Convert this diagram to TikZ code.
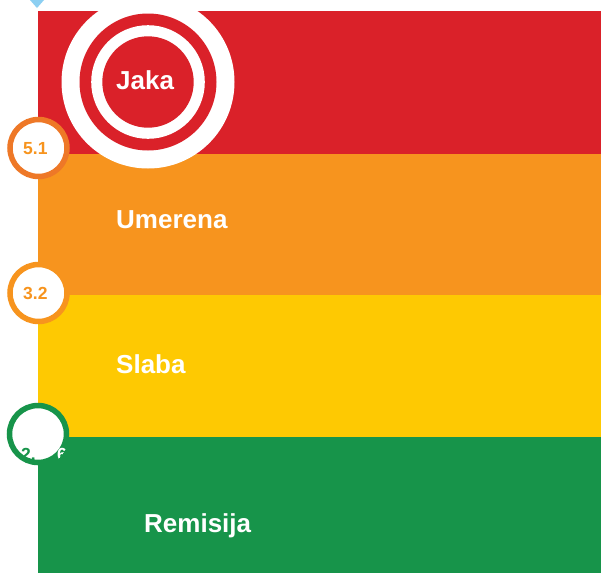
\documentclass[tikz,border=0pt]{standalone}
\usepackage{fontspec}
\setmainfont{Liberation Sans}
\definecolor{cred}{HTML}{DA2129}
\definecolor{corange}{HTML}{F7941E}
\definecolor{cdorange}{HTML}{EE7827}
\definecolor{cyellow}{HTML}{FEC902}
\definecolor{cgreen}{HTML}{17944A}
\definecolor{cblue}{HTML}{8CCFF2}
\begin{document}
\begin{tikzpicture}[x=1pt,y=-1pt,
  bigtxt/.style={text=white,font=\fontsize{26}{30}\bfseries\selectfont,anchor=base west,inner sep=0pt},
  smalltxt/.style={font=\fontsize{17.5}{20}\bfseries\selectfont,anchor=base west,inner sep=0pt},
  ring/.style={circle,fill=white,line width=5.5pt,minimum size=57pt,inner sep=0pt}]
\useasboundingbox (0,0) rectangle (601,573);
\fill[white] (0,0) rectangle (601,573);
% bands
\fill[cred] (38,11) rectangle (601,154);
\fill[corange] (38,154) rectangle (601,295);
\fill[cyellow] (38,295) rectangle (601,437);
\fill[cgreen] (38,437) rectangle (601,573);
% triangle
\fill[cblue] (30,0) -- (44,0) -- (37,8) -- cycle;
% target
\fill[white] (148,82) circle (86.5);
\fill[cred] (148,82) circle (68.5);
\fill[white] (148,82) circle (56.8);
\fill[cred] (148,82) circle (45.7);
% labels
\node[bigtxt] (jaka) at (116,89) {Jaka};
\node[bigtxt] (umerena) at (116,228) {Umerena};
\node[bigtxt] (slaba) at (116,373) {Slaba};
\node[bigtxt] (remisija) at (144,532) {Remisija};
% small circles
\node[ring,draw=cdorange] (c1) at (38.5,148) {};
\node[smalltxt,text=corange] (t1) at (23,154) {5.1};
\node[ring,draw=corange] (c2) at (38.5,293) {};
\node[smalltxt,text=corange] (t2) at (23,299) {3.2};
\node[ring,draw=cgreen] (c3) at (38,434) {};
\node[smalltxt,text=cgreen] (t3) at (21,460) {2.};
\begin{scope}
\clip (38,434) circle (31.25);
\node[smalltxt,text=white] (t4) at (57,460) {6};
\end{scope}
\end{tikzpicture}
\end{document}
